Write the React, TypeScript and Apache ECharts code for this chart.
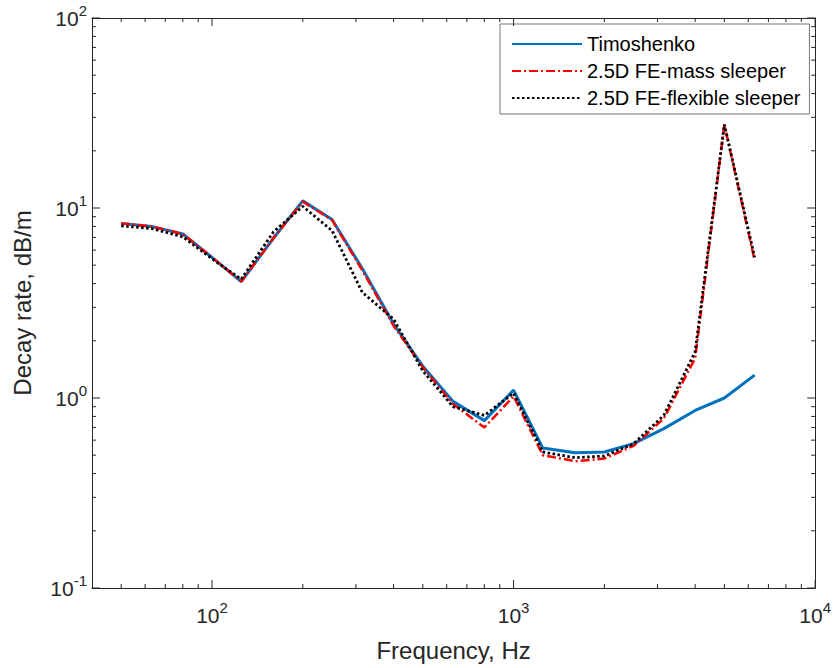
import React, { useEffect, useRef } from "react";
import * as echarts from "echarts";

const FREQ = [50, 63, 80, 100, 125, 160, 200, 250, 315, 400, 500, 630, 800, 1000, 1250, 1600, 2000, 2500, 3150, 4000, 5000, 6300];
const TIMOSHENKO = [8.3, 8.0, 7.3, 5.5, 4.1, 6.95, 10.9, 8.7, 4.8, 2.45, 1.47, 0.96, 0.76, 1.1, 0.545, 0.515, 0.52, 0.575, 0.69, 0.86, 1.0, 1.32];
const FE_MASS = [8.3, 8.0, 7.3, 5.5, 4.1, 6.95, 10.8, 8.65, 4.7, 2.4, 1.45, 0.93, 0.7, 1.02, 0.5, 0.465, 0.48, 0.56, 0.78, 1.62, 27.5, 5.3];
const FE_FLEX = [8.05, 7.8, 7.05, 5.4, 4.22, 7.5, 10.2, 7.6, 3.6, 2.6, 1.39, 0.9, 0.81, 1.06, 0.52, 0.485, 0.495, 0.575, 0.81, 1.75, 27.5, 5.5];
const SERIES_NAMES = ["Timoshenko", "2.5D FE-mass sleeper", "2.5D FE-flexible sleeper"];

const X_MIN = 40;
const X_MAX = 10000;
const Y_MIN = 0.1;
const Y_MAX = 100;
const X_MAJOR = [100, 1000, 10000];
const X_MINOR = [50, 60, 70, 80, 90, 200, 300, 400, 500, 600, 700, 800, 900, 2000, 3000, 4000, 5000, 6000, 7000, 8000, 9000];
const Y_MAJOR = [0.1, 1, 10, 100];
const Y_MINOR = [0.2, 0.3, 0.4, 0.5, 0.6, 0.7, 0.8, 0.9, 2, 3, 4, 5, 6, 7, 8, 9, 20, 30, 40, 50, 60, 70, 80, 90];

const GRID_LEFT = 92;
const GRID_TOP = 18;
const GRID_W = 725;
const GRID_H = 570;
const MAJOR_LEN = 8;
const MINOR_LEN = 4;

const FONT = "'Liberation Sans', Arial, Helvetica, sans-serif";
const INK = "#262626";

const pow10Label = (v: number) => {
  const e = Math.round(Math.log10(v));
  return "{b|10}{s|" + e + "}";
};

const rich = {
  b: { fontSize: 21, lineHeight: 30, fontFamily: FONT, color: INK, verticalAlign: "middle" },
  s: { fontSize: 15, lineHeight: 15, fontFamily: FONT, color: INK, verticalAlign: "top" },
};

export default function App() {
  const ref = useRef<HTMLDivElement>(null);
  useEffect(() => {
    if (!ref.current) return;
    const chart = echarts.init(ref.current, undefined, { renderer: "svg" });
    const pairs = (vals: number[]) => FREQ.map((f, i) => [f, vals[i]]);
    const line = { show: true, onZero: false, lineStyle: { color: INK, width: 1 } };

    // Inward tick marks as tiny two-point line series on the same log axes.
    const pxPerDecX = GRID_W / Math.log10(X_MAX / X_MIN);
    const pxPerDecY = GRID_H / Math.log10(Y_MAX / Y_MIN);
    const fx = (len: number) => Math.pow(10, len / pxPerDecX);
    const fy = (len: number) => Math.pow(10, len / pxPerDecY);
    const tickSeries: any[] = [];
    const addTick = (data: number[][]) =>
      tickSeries.push({
        type: "line",
        xAxisIndex: 0,
        yAxisIndex: 0,
        data,
        symbol: "none",
        silent: true,
        clip: false,
        legendHoverLink: false,
        lineStyle: { color: INK, width: 1, type: "solid" },
        z: 6,
      });
    const addX = (v: number, len: number) => {
      addTick([[v, Y_MIN], [v, Y_MIN * fy(len)]]);
      addTick([[v, Y_MAX], [v, Y_MAX / fy(len)]]);
    };
    const addY = (v: number, len: number) => {
      addTick([[X_MIN, v], [X_MIN * fx(len), v]]);
      addTick([[X_MAX, v], [X_MAX / fx(len), v]]);
    };
    X_MAJOR.forEach((v) => addX(v, MAJOR_LEN));
    X_MINOR.forEach((v) => addX(v, MINOR_LEN));
    Y_MAJOR.forEach((v) => addY(v, MAJOR_LEN));
    Y_MINOR.forEach((v) => addY(v, MINOR_LEN));

    chart.setOption({
      animation: false,
      grid: { left: GRID_LEFT, top: GRID_TOP, width: GRID_W, height: GRID_H, containLabel: false },
      legend: {
        orient: "vertical",
        left: 500,
        top: 24,
        padding: [10, 9, 6, 11],
        itemGap: 7,
        itemWidth: 70,
        itemHeight: 20,
        backgroundColor: "#ffffff",
        borderColor: "#777777",
        borderWidth: 1,
        borderRadius: 0,
        itemStyle: { opacity: 0 },
        textStyle: { fontFamily: FONT, fontSize: 20, color: "#000000" },
        data: SERIES_NAMES,
      },
      xAxis: [
        {
          type: "log",
          logBase: 10,
          min: X_MIN,
          max: X_MAX,
          position: "bottom",
          splitLine: { show: false },
          axisLine: line,
          axisTick: { show: false },
          axisLabel: { show: true, customValues: X_MAJOR, margin: 12, formatter: pow10Label, rich },
          name: "Frequency, Hz",
          nameLocation: "middle",
          nameGap: 50,
          nameTextStyle: { fontFamily: FONT, fontSize: 24, color: INK },
        },
        {
          type: "log",
          logBase: 10,
          min: X_MIN,
          max: X_MAX,
          position: "top",
          splitLine: { show: false },
          axisLine: line,
          axisTick: { show: false },
          axisLabel: { show: false },
        },
      ],
      yAxis: [
        {
          type: "log",
          logBase: 10,
          min: Y_MIN,
          max: Y_MAX,
          position: "left",
          splitLine: { show: false },
          axisLine: line,
          axisTick: { show: false },
          axisLabel: { show: true, customValues: Y_MAJOR, margin: 5, formatter: pow10Label, rich },
          name: "Decay rate, dB/m",
          nameLocation: "middle",
          nameGap: 58,
          nameTextStyle: { fontFamily: FONT, fontSize: 24, color: INK },
        },
        {
          type: "log",
          logBase: 10,
          min: Y_MIN,
          max: Y_MAX,
          position: "right",
          splitLine: { show: false },
          axisLine: line,
          axisTick: { show: false },
          axisLabel: { show: false },
        },
      ],
      series: [
        {
          name: SERIES_NAMES[0],
          type: "line",
          xAxisIndex: 0,
          yAxisIndex: 0,
          data: pairs(TIMOSHENKO),
          symbol: "none",
          color: "#0072BD",
          lineStyle: { color: "#0072BD", width: 3, type: "solid" },
          z: 2,
        },
        {
          name: SERIES_NAMES[1],
          type: "line",
          xAxisIndex: 0,
          yAxisIndex: 0,
          data: pairs(FE_MASS),
          symbol: "none",
          color: "#FF0000",
          lineStyle: { color: "#FF0000", width: 2.5, type: [9, 3, 2, 3] },
          z: 3,
        },
        {
          name: SERIES_NAMES[2],
          type: "line",
          xAxisIndex: 0,
          yAxisIndex: 0,
          data: pairs(FE_FLEX),
          symbol: "none",
          color: "#000000",
          lineStyle: { color: "#000000", width: 2.8, type: [2.5, 2.5] },
          z: 4,
        },
        ...tickSeries,
      ],
    });

    return () => chart.dispose();
  }, []);
  return <div ref={ref} style={{ width: 834, height: 668, position: "absolute", left: 0, top: 0 }} />;
}
